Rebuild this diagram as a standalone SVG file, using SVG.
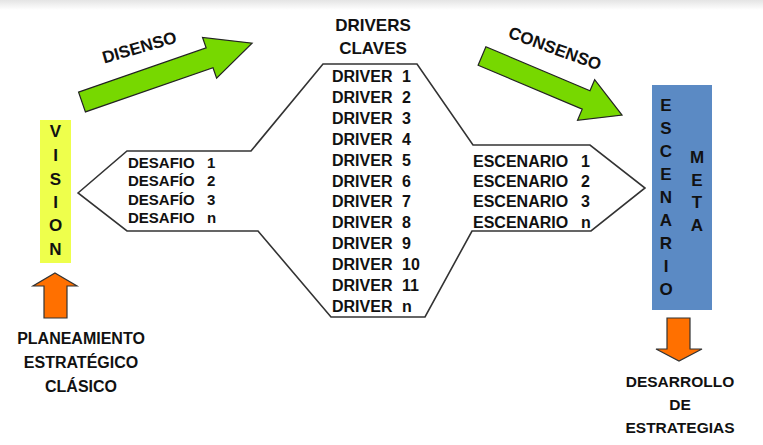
<svg xmlns="http://www.w3.org/2000/svg" width="763" height="445" viewBox="0 0 763 445">
<defs>
<linearGradient id="topband" x1="0" y1="0" x2="0" y2="1">
<stop offset="0" stop-color="#e4e4e4"/>
<stop offset="1" stop-color="#ffffff"/>
</linearGradient>
</defs>
<style>
text{font-family:"Liberation Sans",Arial,sans-serif;font-weight:bold;fill:#111}
.t16{font-size:16px}
.t15{font-size:15px}
.vl{font-size:17px;text-anchor:middle}
.mid{text-anchor:middle}
.green{fill:#77D800;stroke:#222;stroke-width:1.2;stroke-linejoin:miter}
.orange{fill:#FF7000;stroke:#333;stroke-width:1.2}
.outline{fill:#fff;stroke:#333;stroke-width:1.6;stroke-linejoin:miter}
</style>
<rect x="0" y="0" width="763" height="445" fill="#fff"/>
<rect x="0" y="0" width="763" height="10" fill="url(#topband)"/>

<g id="flow-shape">
<polygon class="outline" points="78,193 127,151 251,151 323,64 417,64 473,145 590,145 645,188 591,231 472,231 425,317 331,317 258,231 127,231"/>
</g>

<g id="drivers-title">
<text class="mid" x="373" y="31" style="font-size:17px">DRIVERS</text>
<text class="mid" x="373" y="54" style="font-size:17px">CLAVES</text>
</g>

<g id="drivers">
<text class="t16" x="332" y="82">DRIVER<tspan x="402">1</tspan></text>
<text class="t16" x="332" y="103">DRIVER<tspan x="402">2</tspan></text>
<text class="t16" x="332" y="124">DRIVER<tspan x="402">3</tspan></text>
<text class="t16" x="332" y="145">DRIVER<tspan x="402">4</tspan></text>
<text class="t16" x="332" y="166">DRIVER<tspan x="402">5</tspan></text>
<text class="t16" x="332" y="187">DRIVER<tspan x="402">6</tspan></text>
<text class="t16" x="332" y="207">DRIVER<tspan x="402">7</tspan></text>
<text class="t16" x="332" y="228">DRIVER<tspan x="402">8</tspan></text>
<text class="t16" x="332" y="249">DRIVER<tspan x="402">9</tspan></text>
<text class="t16" x="332" y="270">DRIVER<tspan x="402">10</tspan></text>
<text class="t16" x="332" y="291">DRIVER<tspan x="402">11</tspan></text>
<text class="t16" x="332" y="312">DRIVER<tspan x="402">n</tspan></text>
</g>

<g id="desafios">
<text class="t15" x="128" y="168">DESAFIO<tspan x="207">1</tspan></text>
<text class="t15" x="128" y="186">DESAFÍO<tspan x="207">2</tspan></text>
<text class="t15" x="128" y="205">DESAFÍO<tspan x="207">3</tspan></text>
<text class="t15" x="128" y="223">DESAFIO<tspan x="207">n</tspan></text>
</g>

<g id="escenarios">
<text class="t16" x="473" y="167">ESCENARIO<tspan x="581">1</tspan></text>
<text class="t16" x="473" y="187">ESCENARIO<tspan x="581">2</tspan></text>
<text class="t16" x="473" y="207">ESCENARIO<tspan x="581">3</tspan></text>
<text class="t16" x="473" y="228">ESCENARIO<tspan x="581">n</tspan></text>
</g>

<g id="vision">
<rect x="40" y="120" width="31" height="143" fill="#EEFF4C"/>
<text class="vl" x="55.5" y="137">V</text>
<text class="vl" x="55.5" y="161">I</text>
<text class="vl" x="55.5" y="185">S</text>
<text class="vl" x="55.5" y="208">I</text>
<text class="vl" x="55.5" y="231">O</text>
<text class="vl" x="55.5" y="255">N</text>
</g>

<g id="escenario-meta">
<rect x="652" y="85" width="60" height="225" fill="#5B8AC4"/>
<text class="vl" x="666" y="111">E</text>
<text class="vl" x="666" y="134">S</text>
<text class="vl" x="666" y="157">C</text>
<text class="vl" x="666" y="180">E</text>
<text class="vl" x="666" y="203">N</text>
<text class="vl" x="666" y="226">A</text>
<text class="vl" x="666" y="249">R</text>
<text class="vl" x="666" y="272">I</text>
<text class="vl" x="666" y="295">O</text>
<text class="vl" x="697" y="163">M</text>
<text class="vl" x="697" y="186">E</text>
<text class="vl" x="697" y="208">T</text>
<text class="vl" x="697" y="231">A</text>
</g>

<g id="planeamiento">
<text class="mid" x="81" y="344" style="font-size:16px">PLANEAMIENTO</text>
<text class="mid" x="81" y="368" style="font-size:16px">ESTRATÉGICO</text>
<text class="mid" x="81" y="392" style="font-size:16px">CLÁSICO</text>
</g>

<g id="desarrollo">
<text class="mid" x="680" y="387" style="font-size:15.5px">DESARROLLO</text>
<text class="mid" x="680" y="410" style="font-size:15.5px">DE</text>
<text class="mid" x="680" y="433" style="font-size:15.5px">ESTRATEGIAS</text>
</g>

<g id="connectors">
<g id="disenso">
<polygon class="green" transform="translate(82,102) rotate(-19.1)" points="0,-10.5 135,-10.5 135,-21.5 180,0 135,21.5 135,10.5 0,10.5"/>
<text class="mid" transform="translate(141,53) rotate(-16)" style="font-size:17px">DISENSO</text>
</g>
<g id="consenso">
<polygon class="green" transform="translate(482,56) rotate(22.9)" points="0,-10 113,-10 113,-22 152,0 113,22 113,10 0,10"/>
<text class="mid" transform="translate(553,54) rotate(20)" style="font-size:17px">CONSENSO</text>
</g>
<polygon id="up-arrow" class="orange" points="55,273 77,286 67,286 67,318 44,318 44,286 33,286"/>
<polygon id="down-arrow" class="orange" points="667,318 690,318 690,349 702,349 679,361 656,349 667,349"/>
</g>
</svg>
